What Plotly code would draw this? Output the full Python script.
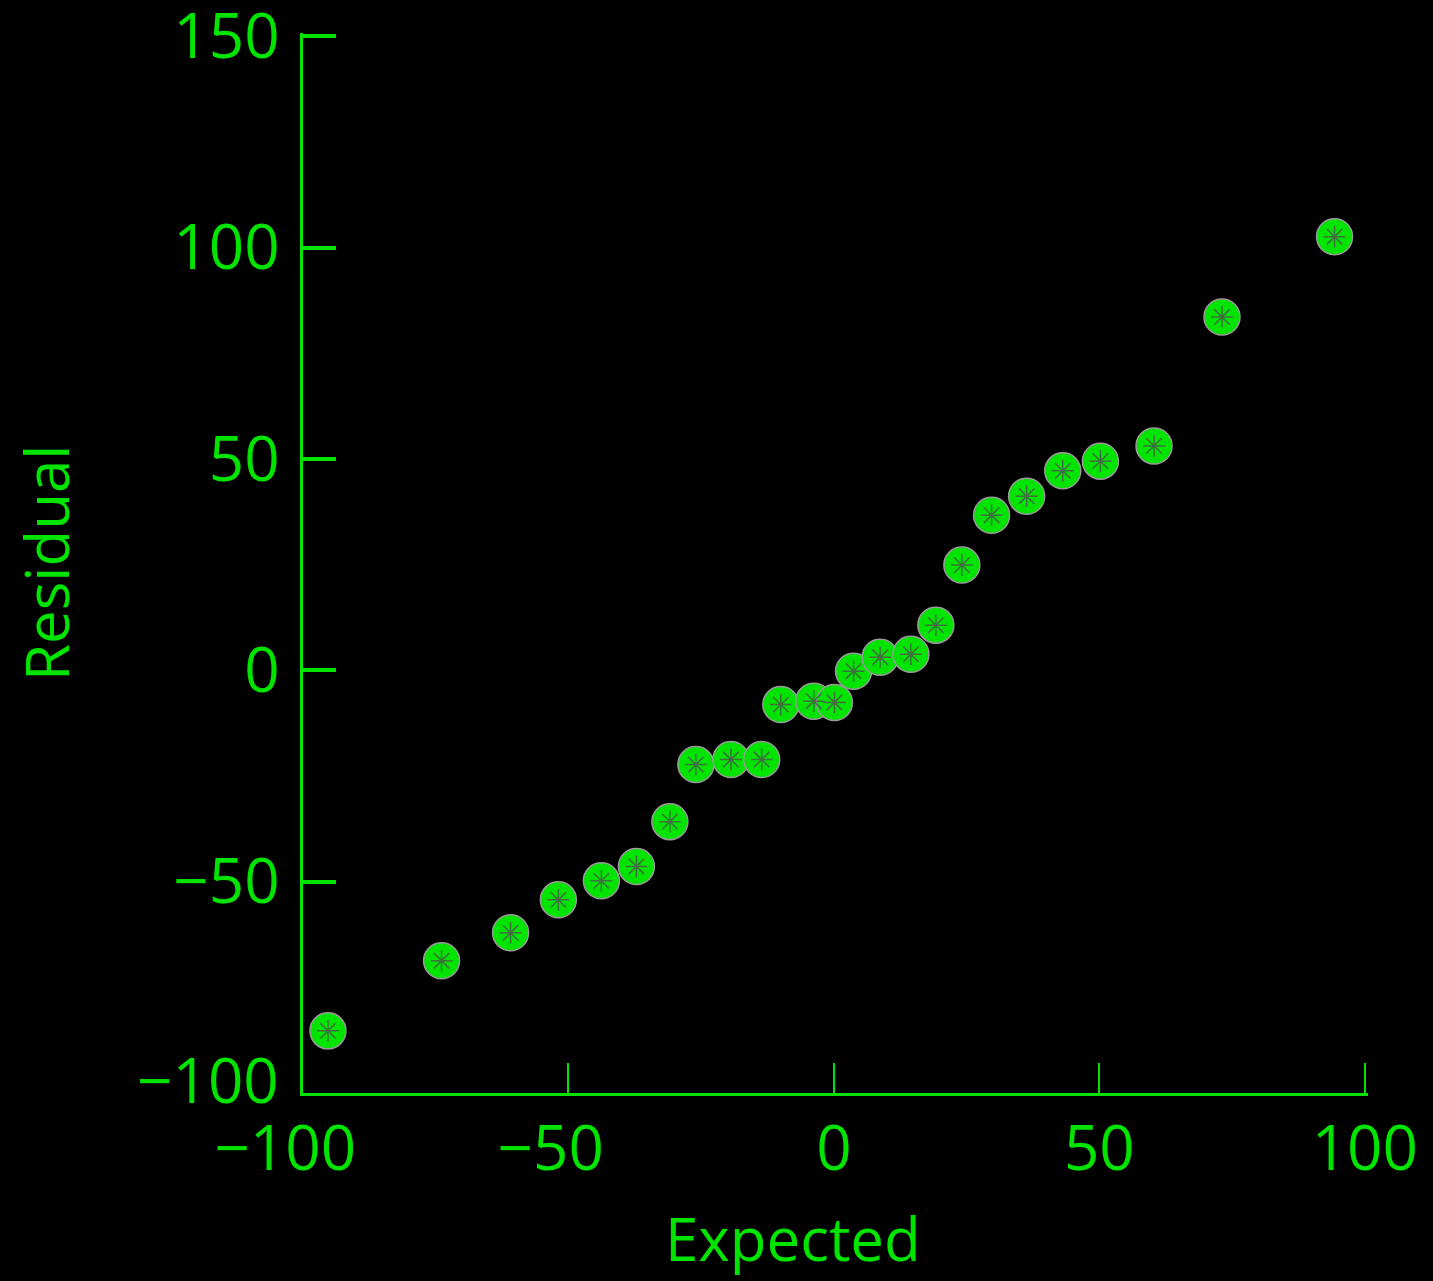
import plotly.graph_objects as go

expected = [-95.3, -73.9, -60.9, -51.9, -43.8, -37.2, -30.9, -26.0, -19.4, -13.6,
            -10.0, -3.8, 0.1, 3.7, 8.7, 14.5, 19.2, 24.1, 29.7, 36.3,
            43.1, 50.2, 60.3, 73.1, 94.3]
residual = [-85.3, -68.7, -62.1, -54.3, -49.8, -46.4, -35.8, -22.3, -21.1, -21.1,
            -8.1, -7.3, -7.6, -0.2, 3.1, 3.8, 10.7, 24.9, 36.7, 41.2,
            47.2, 49.5, 53.1, 83.6, 102.6]

x_ticks = [-100, -50, 0, 50, 100]
x_tick_text = ["\u2212100\u2007", "\u221250\u2007", "0", "50", "100"]
y_ticks = [-100, -50, 0, 50, 100, 150]
y_tick_text = ["", "\u221250", "0", "50", "100", "150"]
y_bottom_label = "\u2212100"

GREEN = "#00e400"

fig = go.Figure()
fig.add_trace(go.Scatter(
    x=expected, y=residual, mode="markers",
    marker=dict(symbol="circle", size=36, color=GREEN,
                line=dict(color="#9a9a9a", width=1.5)),
    hoverinfo="skip", showlegend=False, cliponaxis=False))
fig.add_trace(go.Scatter(
    x=expected, y=residual, mode="markers",
    marker=dict(symbol="asterisk-open", size=18, color="rgba(80,80,80,0.8)",
                line=dict(color="rgba(80,80,80,0.8)", width=1.5)),
    hoverinfo="skip", showlegend=False, cliponaxis=False))

tick_font = dict(family="Open Sans, Liberation Sans, sans-serif", size=62, color=GREEN)
title_font = dict(family="Open Sans, Liberation Sans, sans-serif", size=60, color=GREEN)

fig.update_layout(
    width=1433, height=1281,
    paper_bgcolor="black", plot_bgcolor="black",
    margin=dict(l=303, r=65, t=33, b=188, autoexpand=False),
    xaxis=dict(range=[-100, 100.6], tickvals=x_ticks, ticktext=x_tick_text,
               ticks="inside", ticklen=30, tickwidth=2, tickcolor=GREEN,
               showline=True, linecolor=GREEN, linewidth=3,
               showgrid=False, zeroline=False, tickfont=tick_font,
               ticklabelstandoff=0, ticklabeloverflow="allow", automargin=False),
    yaxis=dict(range=[-100, 150.8], tickvals=y_ticks, ticktext=y_tick_text,
               ticks="inside", ticklen=33, tickwidth=4, tickcolor=GREEN,
               showline=True, linecolor=GREEN, linewidth=3,
               showgrid=False, zeroline=False, tickfont=tick_font,
               ticklabelstandoff=8, ticklabeloverflow="allow", automargin=False),
    annotations=[
        dict(text=y_bottom_label, xref="paper", yref="y", x=0, y=y_ticks[0],
             xanchor="right", yanchor="middle", xshift=-22, yshift=14,
             showarrow=False, font=tick_font),
        dict(text="Expected", xref="paper", yref="paper", x=0.46, y=-0.1372,
             xanchor="center", yanchor="middle", showarrow=False, font=title_font),
        dict(text="Residual", xref="paper", yref="paper", x=-0.2413, y=0.5,
             xanchor="center", yanchor="middle", textangle=-90, showarrow=False,
             font=title_font),
    ],
)

fig.write_html("out.html")
